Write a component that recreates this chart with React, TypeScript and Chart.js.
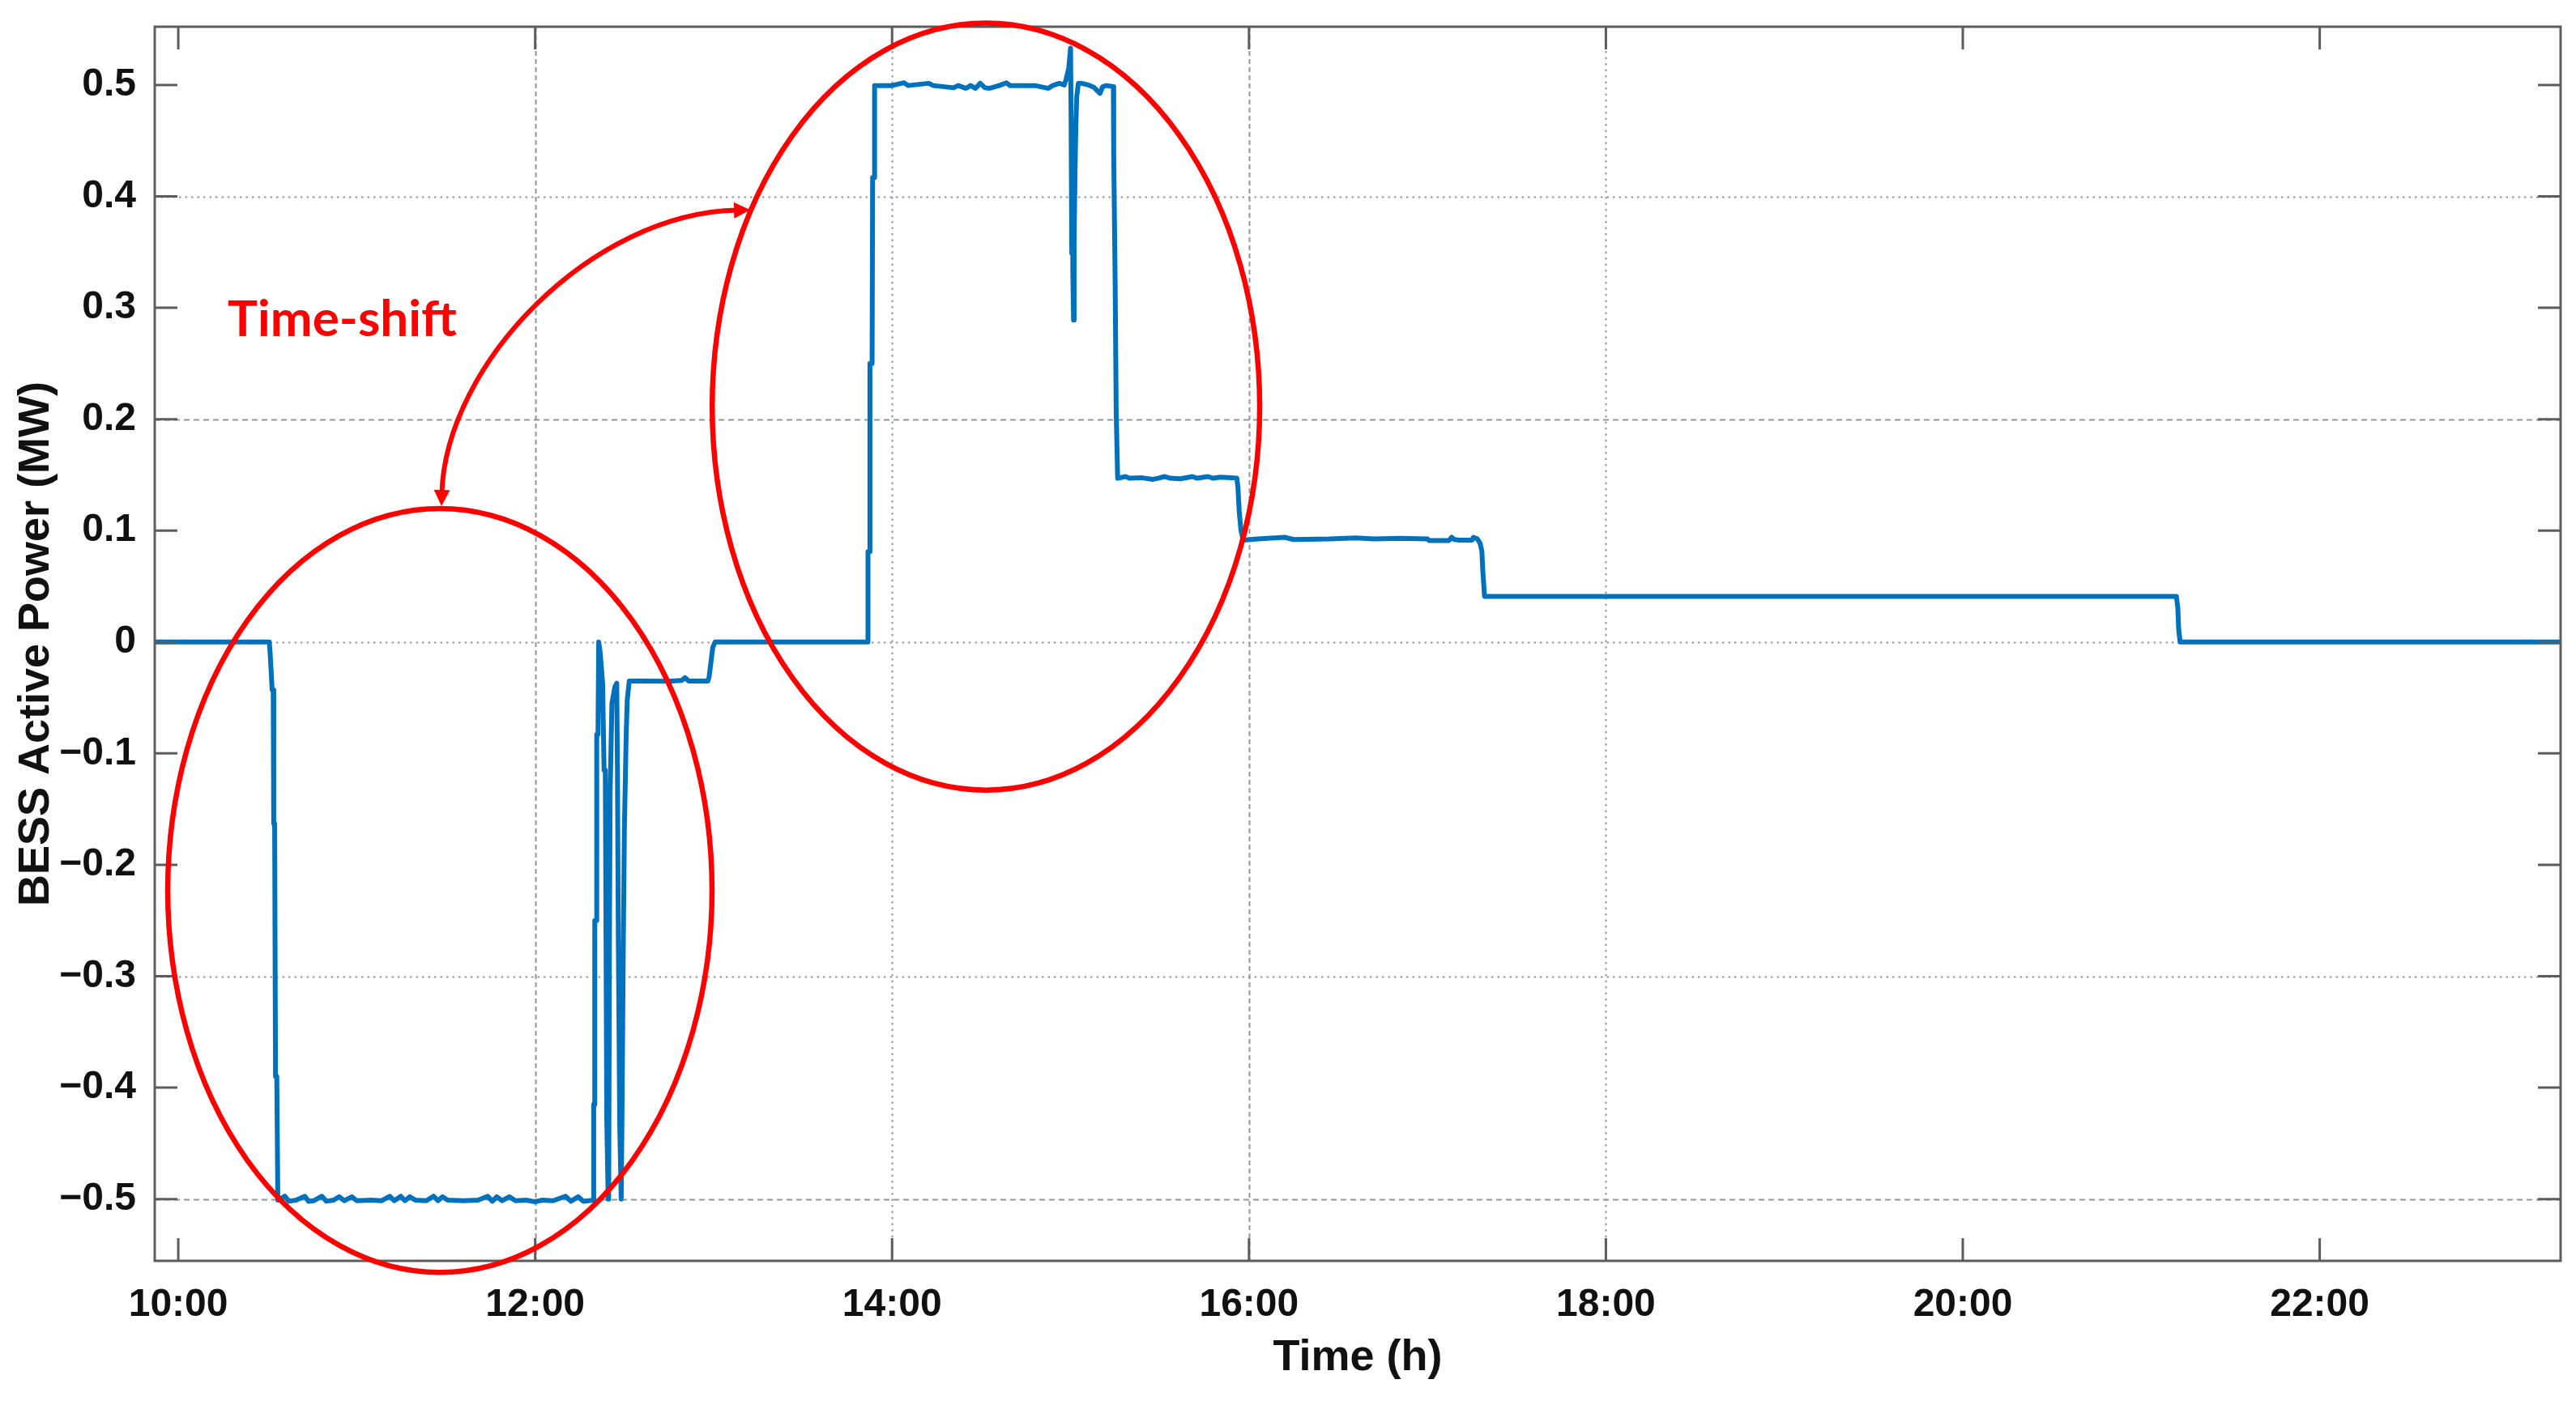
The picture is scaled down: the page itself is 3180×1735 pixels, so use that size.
import React, { useEffect, useRef } from "react";
import { Chart, registerables } from "chart.js";

Chart.register(...registerables);

// ---------- data (time in hours, BESS active power in MW) ----------
const TIME_H: number[] = [
  9.85, 10.51,
  10.514, 10.52, 10.526, 10.532, 10.535, 10.54, 10.545, 10.552, 10.558,
  10.597, 10.62, 10.66, 10.709, 10.73, 10.76, 10.805, 10.83, 10.87, 10.902, 10.93, 10.973, 11.0, 11.08, 11.14,
  11.186, 11.21, 11.247, 11.27, 11.297, 11.33, 11.39, 11.43, 11.455, 11.48, 11.51, 11.6, 11.68, 11.734, 11.76,
  11.785, 11.815, 11.855, 11.89, 11.95, 12.0, 12.04, 12.1, 12.17, 12.2, 12.241, 12.27, 12.3, 12.326,
  12.328, 12.333, 12.334, 12.343, 12.345, 12.352, 12.356, 12.364, 12.378, 12.386, 12.393, 12.397, 12.399,
  12.401, 12.405, 12.409, 12.412, 12.416, 12.42, 12.43, 12.447, 12.457, 12.461, 12.466, 12.474, 12.482,
  12.486, 12.494, 12.5, 12.51, 12.516, 12.527,
  12.6, 12.75, 12.82, 12.84, 12.86, 12.968, 12.975, 12.985, 12.995, 13.008,
  13.864, 13.865, 13.874, 13.876, 13.888, 13.891, 13.899, 13.902,
  14.0, 14.067, 14.09, 14.206, 14.23, 14.345, 14.37, 14.415, 14.44, 14.467, 14.494, 14.52, 14.545, 14.6,
  14.641, 14.66, 14.8, 14.876, 14.9, 14.937, 14.965, 14.975, 14.99, 15.0,
  15.003, 15.007, 15.01, 15.013, 15.017, 15.02, 15.025, 15.03, 15.035, 15.044,
  15.06, 15.1, 15.13, 15.165, 15.18, 15.2, 15.24,
  15.242, 15.25, 15.256, 15.264,
  15.308, 15.33, 15.396, 15.462, 15.49, 15.528, 15.56, 15.616, 15.683, 15.71, 15.77, 15.8, 15.837, 15.903, 15.932,
  15.938, 15.945, 15.955, 15.968,
  16.05, 16.2, 16.25, 16.45, 16.6, 16.7, 16.85, 17.0, 17.01, 17.12, 17.136, 17.15, 17.18, 17.25, 17.258, 17.28,
  17.295, 17.305, 17.31, 17.32,
  21.197, 21.205, 21.21, 21.218,
  23.5,
];

const POWER_MW: number[] = [
  0, 0,
  -0.008, -0.025, -0.043, -0.043, -0.163, -0.163, -0.39, -0.39, -0.501,
  -0.4975, -0.502, -0.501, -0.4975, -0.502, -0.5015, -0.4975, -0.502, -0.501, -0.498, -0.5015, -0.498, -0.5015, -0.501, -0.5015,
  -0.4975, -0.5015, -0.4975, -0.5015, -0.498, -0.501, -0.5015, -0.4975, -0.5015, -0.498, -0.501, -0.5015, -0.501, -0.4975, -0.502,
  -0.498, -0.5015, -0.498, -0.5015, -0.501, -0.5025, -0.501, -0.5015, -0.4975, -0.502, -0.498, -0.502, -0.5015, -0.501,
  -0.415, -0.415, -0.25, -0.25, -0.083, -0.083, 0.0, -0.009, -0.037, -0.115, -0.115, -0.269, -0.269,
  -0.427, -0.427, -0.5, -0.5, -0.272, -0.135, -0.055, -0.04, -0.037, -0.115, -0.269, -0.434, -0.5,
  -0.434, -0.269, -0.167, -0.083, -0.052, -0.035,
  -0.035, -0.0352, -0.0345, -0.032, -0.035, -0.035, -0.031, -0.018, -0.005, 0,
  0, 0.081, 0.081, 0.25, 0.25, 0.417, 0.417, 0.4995,
  0.4995, 0.502, 0.4995, 0.5015, 0.4995, 0.4975, 0.4995, 0.497, 0.4995, 0.497, 0.5015, 0.4975, 0.497, 0.4995,
  0.502, 0.4995, 0.4995, 0.497, 0.4995, 0.5015, 0.5, 0.505, 0.515, 0.533,
  0.474, 0.349, 0.42, 0.33, 0.289, 0.36, 0.42, 0.465, 0.49, 0.5015,
  0.5015, 0.5, 0.498, 0.4925, 0.4985, 0.4995, 0.4985,
  0.439, 0.323, 0.205, 0.147,
  0.1485, 0.147, 0.1475, 0.146, 0.147, 0.1485, 0.147, 0.1465, 0.1485, 0.147, 0.1485, 0.147, 0.148, 0.1475, 0.147,
  0.139, 0.118, 0.1, 0.0915,
  0.0925, 0.094, 0.092, 0.0925, 0.0935, 0.0925, 0.093, 0.0925, 0.091, 0.091, 0.094, 0.092, 0.0915, 0.0915, 0.094, 0.0925,
  0.0887, 0.0815, 0.0647, 0.041,
  0.041, 0.0305, 0.011, 0,
  0,
];

const X_TICKS = [10, 12, 14, 16, 18, 20, 22];
const X_TICK_LABELS = ["10:00", "12:00", "14:00", "16:00", "18:00", "20:00", "22:00"];
const Y_TICKS = [-0.5, -0.4, -0.3, -0.2, -0.1, 0, 0.1, 0.2, 0.3, 0.4, 0.5];
const Y_TICK_LABELS = ["\u22120.5", "\u22120.4", "\u22120.3", "\u22120.2", "\u22120.1", "0", "0.1", "0.2", "0.3", "0.4", "0.5"];

const X_MIN = 9.868;
const X_MAX = 23.35;
const Y_MIN = -0.5555;
const Y_MAX = 0.5523;

// grid lines present in the figure
const GRID_X = [12, 14, 16, 18];
const GRID_X_DASHED = [true, false, true, false];
const GRID_Y = [0.4, 0.2, 0, -0.3, -0.5];
const GRID_Y_DASHED = [false, true, false, false, true];

// annotations (data coordinates)
const ELLIPSE_CX = [11.466, 14.526];
const ELLIPSE_CY = [-0.223, 0.2113];
const ELLIPSE_RX = [1.525, 1.534];
const ELLIPSE_RY = [0.3428, 0.3442];
const ARROW_X = [11.475, 11.498, 12.315, 13.205];
const ARROW_Y = [0.122, 0.2492, 0.3851, 0.3878];
const NOTE_TEXT = "Time-shift";
const NOTE_X = 10.277;
const NOTE_Y = 0.2746;

const AXIS_FONT = "'Liberation Sans', Arial, Helvetica, sans-serif";
const LINE_BLUE = "#0072BD";
const RED = "#ff0000";
const FRAME = "#5c5c5c";
const GRID_COLOR = "#969696";

const gridPlugin = {
  id: "matlabGrid",
  beforeDatasetsDraw(chart: any) {
    const { ctx, chartArea, scales } = chart;
    const { left, right, top, bottom } = chartArea;
    ctx.save();
    ctx.strokeStyle = GRID_COLOR;
    ctx.lineWidth = 2;
    GRID_X.forEach((v, i) => {
      const px = Math.round(scales.x.getPixelForValue(v)) + 0.5;
      ctx.setLineDash(GRID_X_DASHED[i] ? [6, 4] : [2.5, 5]);
      ctx.beginPath();
      ctx.moveTo(px, top);
      ctx.lineTo(px, bottom);
      ctx.stroke();
    });
    GRID_Y.forEach((v, i) => {
      const py = Math.round(scales.y.getPixelForValue(v)) + 0.5;
      ctx.setLineDash(GRID_Y_DASHED[i] ? [7, 5] : [2.5, 5]);
      ctx.beginPath();
      ctx.moveTo(left, py);
      ctx.lineTo(right, py);
      ctx.stroke();
    });
    ctx.restore();
  },
  afterDatasetsDraw(chart: any) {
    const { ctx, chartArea, scales } = chart;
    const { left, right, top, bottom } = chartArea;
    const tl = 28;
    ctx.save();
    ctx.setLineDash([]);
    ctx.strokeStyle = FRAME;
    ctx.lineWidth = 3;
    X_TICKS.forEach((v) => {
      const px = scales.x.getPixelForValue(v);
      ctx.beginPath();
      ctx.moveTo(px, bottom);
      ctx.lineTo(px, bottom - tl);
      ctx.moveTo(px, top);
      ctx.lineTo(px, top + tl);
      ctx.stroke();
    });
    Y_TICKS.forEach((v) => {
      const py = scales.y.getPixelForValue(v);
      ctx.beginPath();
      ctx.moveTo(left, py);
      ctx.lineTo(left + tl, py);
      ctx.moveTo(right, py);
      ctx.lineTo(right - tl, py);
      ctx.stroke();
    });
    ctx.strokeRect(left, top, right - left, bottom - top);
    ctx.restore();
  },
};

const annotationPlugin = {
  id: "timeShiftNotes",
  afterDraw(chart: any) {
    const { ctx, scales } = chart;
    const xs = scales.x;
    const ys = scales.y;
    ctx.save();
    ctx.strokeStyle = RED;
    ctx.fillStyle = RED;

    // ellipses
    ctx.lineWidth = 6.5;
    ELLIPSE_CX.forEach((cxv, i) => {
      const cx = xs.getPixelForValue(cxv);
      const cy = ys.getPixelForValue(ELLIPSE_CY[i]);
      const rx = Math.abs(xs.getPixelForValue(cxv + ELLIPSE_RX[i]) - cx);
      const ry = Math.abs(ys.getPixelForValue(ELLIPSE_CY[i] + ELLIPSE_RY[i]) - cy);
      ctx.beginPath();
      ctx.ellipse(cx, cy, rx, ry, 0, 0, Math.PI * 2);
      ctx.stroke();
    });

    // double-headed curved arrow
    const p = ARROW_X.map((xv, i) => ({ x: xs.getPixelForValue(xv), y: ys.getPixelForValue(ARROW_Y[i]) }));
    const headLen = 20;
    const headHalf = 10;
    const unit = (a: any, b: any) => {
      const dx = a.x - b.x;
      const dy = a.y - b.y;
      const d = Math.hypot(dx, dy) || 1;
      return { x: dx / d, y: dy / d };
    };
    const d0 = unit(p[0], p[1]);
    const d3 = unit(p[3], p[2]);
    const s0 = { x: p[0].x - d0.x * headLen * 0.8, y: p[0].y - d0.y * headLen * 0.8 };
    const s3 = { x: p[3].x - d3.x * headLen * 0.8, y: p[3].y - d3.y * headLen * 0.8 };
    ctx.lineWidth = 6;
    ctx.lineCap = "butt";
    ctx.beginPath();
    ctx.moveTo(s0.x, s0.y);
    ctx.bezierCurveTo(p[1].x, p[1].y, p[2].x, p[2].y, s3.x, s3.y);
    ctx.stroke();
    const head = (tip: any, d: any) => {
      const bx = tip.x - d.x * headLen;
      const by = tip.y - d.y * headLen;
      ctx.beginPath();
      ctx.moveTo(tip.x, tip.y);
      ctx.lineTo(bx - d.y * headHalf, by + d.x * headHalf);
      ctx.lineTo(bx + d.y * headHalf, by - d.x * headHalf);
      ctx.closePath();
      ctx.fill();
    };
    head(p[0], d0);
    head(p[3], d3);

    // label
    ctx.font = "bold 62px Lato, 'Open Sans', sans-serif";
    ctx.textAlign = "left";
    ctx.textBaseline = "alphabetic";
    ctx.fillText(NOTE_TEXT, xs.getPixelForValue(NOTE_X), ys.getPixelForValue(NOTE_Y));
    ctx.restore();
  },
};

export default function App() {
  const canvasRef = useRef<HTMLCanvasElement | null>(null);

  useEffect(() => {
    const canvas = canvasRef.current;
    if (!canvas) return;
    const points = TIME_H.map((t, i) => ({ x: t, y: POWER_MW[i] }));
    const tickFont = { family: AXIS_FONT, size: 48, weight: "bold" as const };
    const titleFont = { family: AXIS_FONT, size: 54, weight: "bold" as const };
    const noGrid = {
      display: false,
      drawOnChartArea: false,
      drawTicks: false,
      tickLength: 0,
      color: "rgba(0,0,0,0)",
      lineWidth: 0,
    };

    const chart = new Chart(canvas, {
      type: "line",
      data: {
        datasets: [
          {
            label: "BESS Active Power",
            data: points,
            borderColor: LINE_BLUE,
            backgroundColor: LINE_BLUE,
            borderWidth: 6,
            pointRadius: 0,
            tension: 0,
            borderJoinStyle: "round",
            fill: false,
          },
        ],
      },
      options: {
        responsive: false,
        animation: false,
        devicePixelRatio: 1,
        events: [],
        parsing: false,
        normalized: true,
        layout: { padding: { top: 33, right: 19, left: 0, bottom: 0 } },
        plugins: {
          legend: { display: false },
          tooltip: { enabled: false },
        },
        scales: {
          x: {
            type: "linear",
            min: X_MIN,
            max: X_MAX,
            bounds: "data",
            grid: noGrid,
            border: { display: false },
            afterBuildTicks: (s: any) => {
              s.ticks = X_TICKS.map((v) => ({ value: v }));
            },
            afterFit: (s: any) => {
              s.height = 178;
              s.paddingLeft = 0;
              s.paddingRight = 0;
              s.paddingTop = 0;
              s.paddingBottom = 0;
            },
            ticks: {
              autoSkip: false,
              maxRotation: 0,
              minRotation: 0,
              padding: 26,
              color: "#111111",
              font: tickFont,
              callback: (_v: any, i: number) => X_TICK_LABELS[i],
            },
            title: {
              display: true,
              text: "Time (h)",
              color: "#111111",
              font: titleFont,
              padding: { top: 0, bottom: 25 },
            },
          },
          y: {
            type: "linear",
            min: Y_MIN,
            max: Y_MAX,
            bounds: "data",
            grid: noGrid,
            border: { display: false },
            afterBuildTicks: (s: any) => {
              s.ticks = Y_TICKS.map((v) => ({ value: v }));
            },
            afterFit: (s: any) => {
              s.width = 191;
              s.paddingTop = 0;
              s.paddingBottom = 0;
              s.paddingLeft = 0;
              s.paddingRight = 0;
            },
            ticks: {
              autoSkip: false,
              padding: 23,
              color: "#111111",
              font: tickFont,
              callback: (_v: any, i: number) => Y_TICK_LABELS[i],
            },
            title: {
              display: true,
              text: "BESS Active Power (MW)",
              color: "#111111",
              font: titleFont,
              padding: { top: 13, bottom: 0 },
            },
          },
        },
      },
      plugins: [gridPlugin, annotationPlugin],
    } as any);

    return () => {
      chart.destroy();
    };
  }, []);

  return (
    <div style={{ position: "fixed", left: 0, top: 0, width: 3180, height: 1735, background: "#ffffff" }}>
      <canvas ref={canvasRef} width={3180} height={1735} style={{ display: "block", width: 3180, height: 1735 }} />
    </div>
  );
}
